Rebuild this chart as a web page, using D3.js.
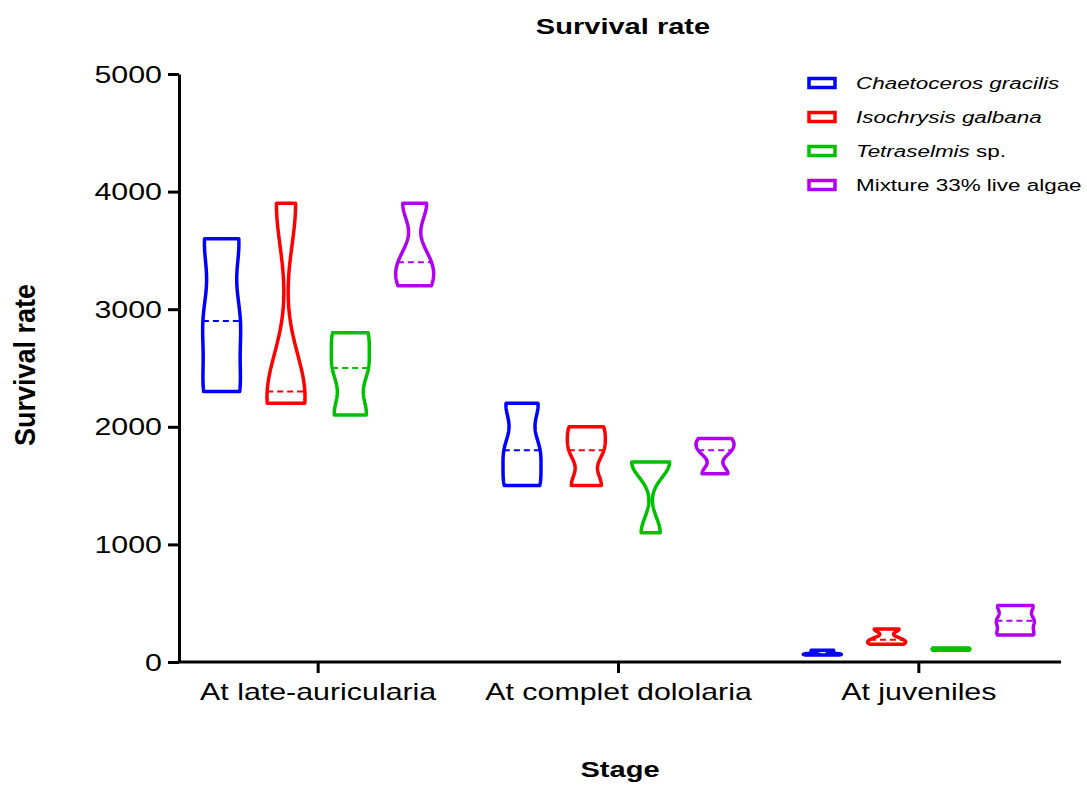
<!DOCTYPE html>
<html>
<head>
<meta charset="utf-8">
<script src="https://cdn.jsdelivr.net/npm/d3@7"></script>
<style>
  body { margin: 0; background: #fff; }
  svg { font-family: "Liberation Sans", Arial, sans-serif; }
</style>
</head>
<body>
<div id="chart"></div>
<script>
// values (3 replicates per group)
const stages = ["At late-auricularia", "At complet dololaria", "At juveniles"];
const seriesNames = ["Chaetoceros gracilis", "Isochrysis galbana", "Tetraselmis sp.", "Mixture 33% live algae"];
const chaetoceros = [[2300, 2900, 3600], [1500, 1800, 2200], [60, 70, 100]];
const isochrysis = [[2200, 2300, 3900], [1500, 1800, 2000], [150, 190, 280]];
const tetraselmis = [[2100, 2500, 2800], [1100, 1700, 1700], [100, 110, 120]];
const mixture = [[3200, 3400, 3900], [1600, 1800, 1900], [230, 350, 480]];
const yTicks = [0, 1000, 2000, 3000, 4000, 5000];
const colors = ["#0000ff", "#ff0000", "#00c000", "#b000f0"];

const allSeries = [chaetoceros, isochrysis, tetraselmis, mixture];
const SX = 1.32; // the original text is drawn a bit wide
const width = 1087, height = 785;
const axisLeftX = 179, axisBottomY = 662, axisRightX = 1061;
const halfMax = 19;

const svg = d3.select("#chart").append("svg")
  .attr("width", width)
  .attr("height", height);

const x = d3.scaleBand().domain(stages).range([168, 1069]);
const xSub = d3.scalePoint().domain(d3.range(allSeries.length)).range([-96.5, 96.5]);
const y = d3.scaleLinear().domain([0, 5000]).range([axisBottomY, 74]);

// y axis
const yAxis = svg.append("g")
  .attr("transform", `translate(${axisLeftX},0)`)
  .call(d3.axisLeft(y).tickValues(yTicks).tickSize(11).tickSizeOuter(0).tickFormat(d3.format("d")));
yAxis.selectAll("path, line").attr("stroke", "#000").attr("stroke-width", 3);
yAxis.selectAll("text")
  .attr("x", null)
  .attr("dy", "0.35em")
  .attr("font-size", 23)
  .attr("fill", "#000")
  .attr("transform", `translate(-17,0) scale(${SX},1)`);

// x axis
const xAxis = svg.append("g")
  .attr("transform", `translate(0,${axisBottomY})`)
  .call(d3.axisBottom(x).tickSize(11).tickSizeOuter(0));
xAxis.select(".domain").remove();
xAxis.append("line")
  .attr("x1", axisLeftX).attr("x2", axisRightX)
  .attr("y1", 0).attr("y2", 0);
xAxis.selectAll("line").attr("stroke", "#000").attr("stroke-width", 3);
xAxis.selectAll(".tick text")
  .attr("y", null)
  .attr("dy", null)
  .attr("font-size", 23)
  .attr("fill", "#000")
  .attr("transform", `translate(0,38) scale(${SX},1)`);

// kernel density, trimmed at min and max
function violin(values) {
  const v = values.slice().sort(d3.ascending);
  const n = v.length;
  const sd = d3.deviation(v);
  const iqr = (d3.quantile(v, 0.75) - d3.quantile(v, 0.25)) / 1.34;
  let h = 0.8 * 0.9 * Math.min(sd, iqr > 0 ? iqr : sd) * Math.pow(n, -0.2);
  if (!(h > 0)) h = 1;
  const lo = v[0], hi = v[n - 1];
  const steps = 60;
  const pts = d3.range(steps + 1).map(k => {
    const t = lo + (hi - lo) * k / steps;
    const d = d3.sum(v, xi => Math.exp(-0.5 * ((t - xi) / h) ** 2));
    return [t, d];
  });
  const maxD = d3.max(pts, p => p[1]);
  const dens = t => d3.sum(v, xi => Math.exp(-0.5 * ((t - xi) / h) ** 2)) / maxD;
  return { pts: pts.map(p => [p[0], p[1] / maxD]), median: d3.median(v), dens };
}

const line = d3.line();

stages.forEach((stage, i) => {
  allSeries.forEach((series, j) => {
    const cx = x(stage) + x.bandwidth() / 2 + xSub(j);
    const vl = violin(series[i]);
    const right = vl.pts.map(p => [cx + halfMax * p[1], y(p[0])]);
    const left = vl.pts.slice().reverse().map(p => [cx - halfMax * p[1], y(p[0])]);
    svg.append("path")
      .attr("d", line(right.concat(left)) + "Z")
      .attr("fill", "none")
      .attr("stroke", colors[j])
      .attr("stroke-width", 3.5)
      .attr("stroke-linejoin", "round");
    const wm = halfMax * vl.dens(vl.median);
    svg.append("line")
      .attr("x1", cx - wm).attr("x2", cx + wm)
      .attr("y1", y(vl.median)).attr("y2", y(vl.median))
      .attr("stroke", colors[j])
      .attr("stroke-width", 2)
      .attr("stroke-dasharray", "6,4");
  });
});

// titles
svg.append("text")
  .attr("transform", `translate(623,34) scale(${SX},1)`)
  .attr("text-anchor", "middle")
  .attr("font-size", 22)
  .attr("font-weight", "bold")
  .text("Survival rate");

svg.append("text")
  .attr("transform", `translate(620,777) scale(${SX},1)`)
  .attr("text-anchor", "middle")
  .attr("font-size", 22)
  .attr("font-weight", "bold")
  .text("Stage");

svg.append("text")
  .attr("transform", "translate(35,365) rotate(-90) scale(1,1.12)")
  .attr("text-anchor", "middle")
  .attr("font-size", 27)
  .attr("font-weight", "bold")
  .text("Survival rate");

// legend
const legend = svg.append("g");
seriesNames.forEach((name, j) => {
  const ry = 83 + j * 34;
  legend.append("rect")
    .attr("x", 809).attr("y", ry - 4.5)
    .attr("width", 26).attr("height", 9)
    .attr("fill", "#fff")
    .attr("stroke", colors[j])
    .attr("stroke-width", 3.5);
  const t = legend.append("text")
    .attr("transform", `translate(856,${ry + 6}) scale(${SX},1)`)
    .attr("font-size", 17);
  if (name.endsWith(" sp.")) {
    t.append("tspan").attr("font-style", "italic").text(name.replace(" sp.", ""));
    t.append("tspan").text(" sp.");
  } else if (name.startsWith("Mixture")) {
    t.text(name);
  } else {
    t.attr("font-style", "italic").text(name);
  }
});
</script>
</body>
</html>
